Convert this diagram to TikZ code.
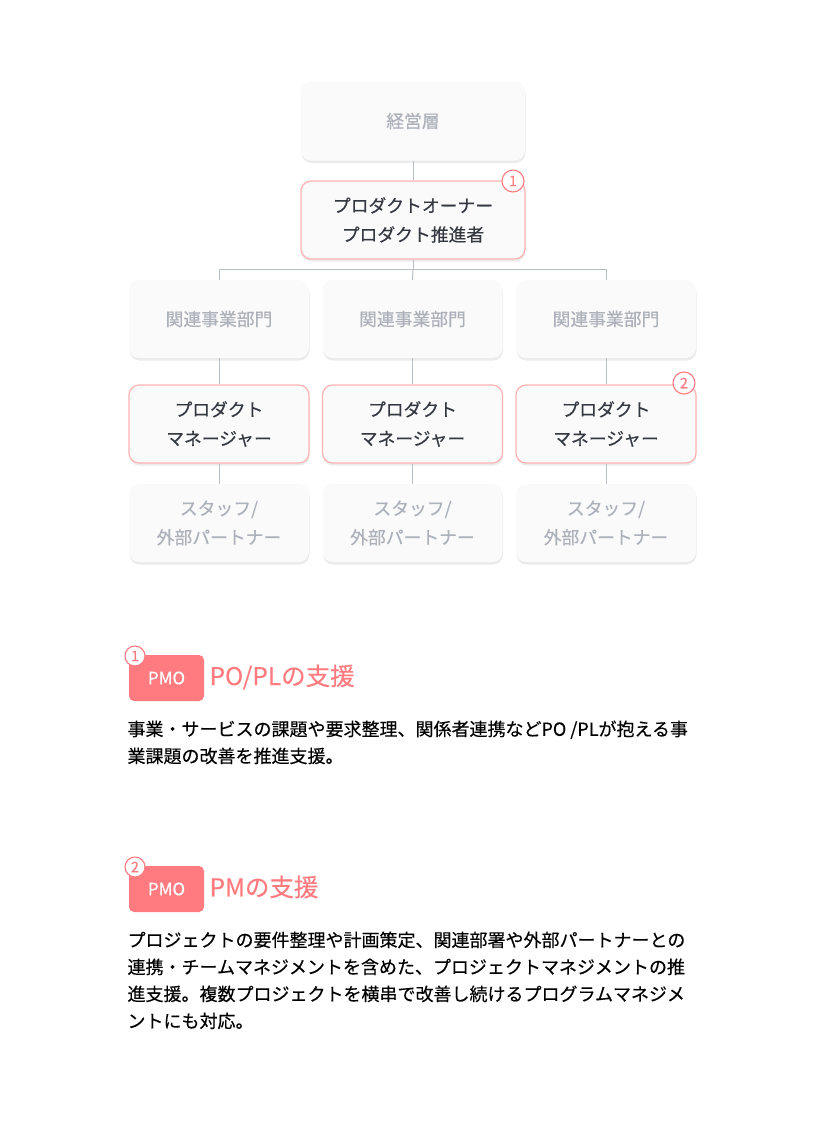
\documentclass[tikz,border=0pt]{standalone}
\usepackage{fontspec}
\setmainfont{Noto Sans CJK JP}[FakeBold=0.35]
\usetikzlibrary{positioning,shadows}
\definecolor{pmopink}{RGB}{255,123,128}
\definecolor{pinkline}{RGB}{255,178,178}
\definecolor{mute}{RGB}{172,177,186}
\definecolor{ink}{RGB}{52,56,64}
\definecolor{boxfill}{RGB}{250,250,250}
\definecolor{wire}{RGB}{184,190,198}

\tikzset{
  unit/.style={fill=boxfill, rounded corners=10pt, minimum width=180pt, minimum height=78pt,
    align=center, text=mute, font=\fontsize{17.8}{29}\selectfont,
    drop shadow={opacity=0.16, shadow xshift=0.5pt, shadow yshift=-2.5pt}},
  lead/.style={unit, draw=pinkline, line width=1.2pt, text=ink},
  badge/.style={circle, draw=pmopink, fill=white, line width=1.1pt, inner sep=0pt,
    minimum size=22pt, text=pmopink, font=\fontsize{14.5}{14.5}\selectfont},
  pmo/.style={fill=pmopink, rounded corners=5pt, minimum width=75pt, minimum height=46pt,
    text=white, font=\fontsize{17}{17}\selectfont},
  heading/.style={anchor=west, text=pmopink, font=\fontsize{24.5}{24.5}\selectfont},
  body/.style={anchor=north west, align=left, text=black, font=\fontsize{18}{27}\selectfont},
  wire/.style={draw=wire, line width=1pt}
}

\begin{document}
\begin{tikzpicture}[x=1pt,y=-1pt]
  \useasboundingbox (0,0) rectangle (825,1125);

  % Top of the chart
  \node[unit, minimum width=224pt, minimum height=79pt] (exec) at (413,121) {経営層};
  \node[lead, minimum width=224pt] (po) at (413,220) {プロダクトオーナー\\プロダクト推進者};
  \draw[wire] (exec) -- (po);
  \draw[wire] (po.south) -- ++(0,10) coordinate (bus);

  % Three columns
  \foreach \col/\x in {1/219,2/412.5,3/606} {
    \node[unit] (dept\col) at (\x,319) {関連事業部門};
    \node[lead] (pm\col) at (\x,424) {プロダクト\\マネージャー};
    \node[unit] (staff\col) at (\x,523) {スタッフ/\\外部パートナー};
    \draw[wire] (dept\col) -- (pm\col);
    \draw[wire] (pm\col) -- (staff\col);
  }
  \draw[wire] (dept1.north) |- (bus) -| (dept3.north);
  \draw[wire] (bus) -- (dept2.north);

  % Badges
  \node[badge] (b1) at (513,181) {1};
  \node[badge] (b2) at (684,383) {2};

  % PO/PL support
  \node[pmo] (pmo1) at (166.5,678) {PMO};
  \node[badge, minimum size=20pt] (n1) at (135,656) {1};
  \node[heading] (h1) at (206,677) {PO/PLの支援};
  \node[body] (t1) at (124,717) {事業・サービスの課題や要求整理、関係者連携などPO /PLが抱える事\\業課題の改善を推進支援。};

  % PM support
  \node[pmo] (pmo2) at (166.5,889) {PMO};
  \node[badge, minimum size=20pt] (n2) at (135,867) {2};
  \node[heading] (h2) at (206,887) {PMの支援};
  \node[body] (t2) at (124,928) {プロジェクトの要件整理や計画策定、関連部署や外部パートナーとの\\連携・チームマネジメントを含めた、プロジェクトマネジメントの推\\進支援。複数プロジェクトを横串で改善し続けるプログラムマネジメ\\ントにも対応。};

\end{tikzpicture}
\end{document}
